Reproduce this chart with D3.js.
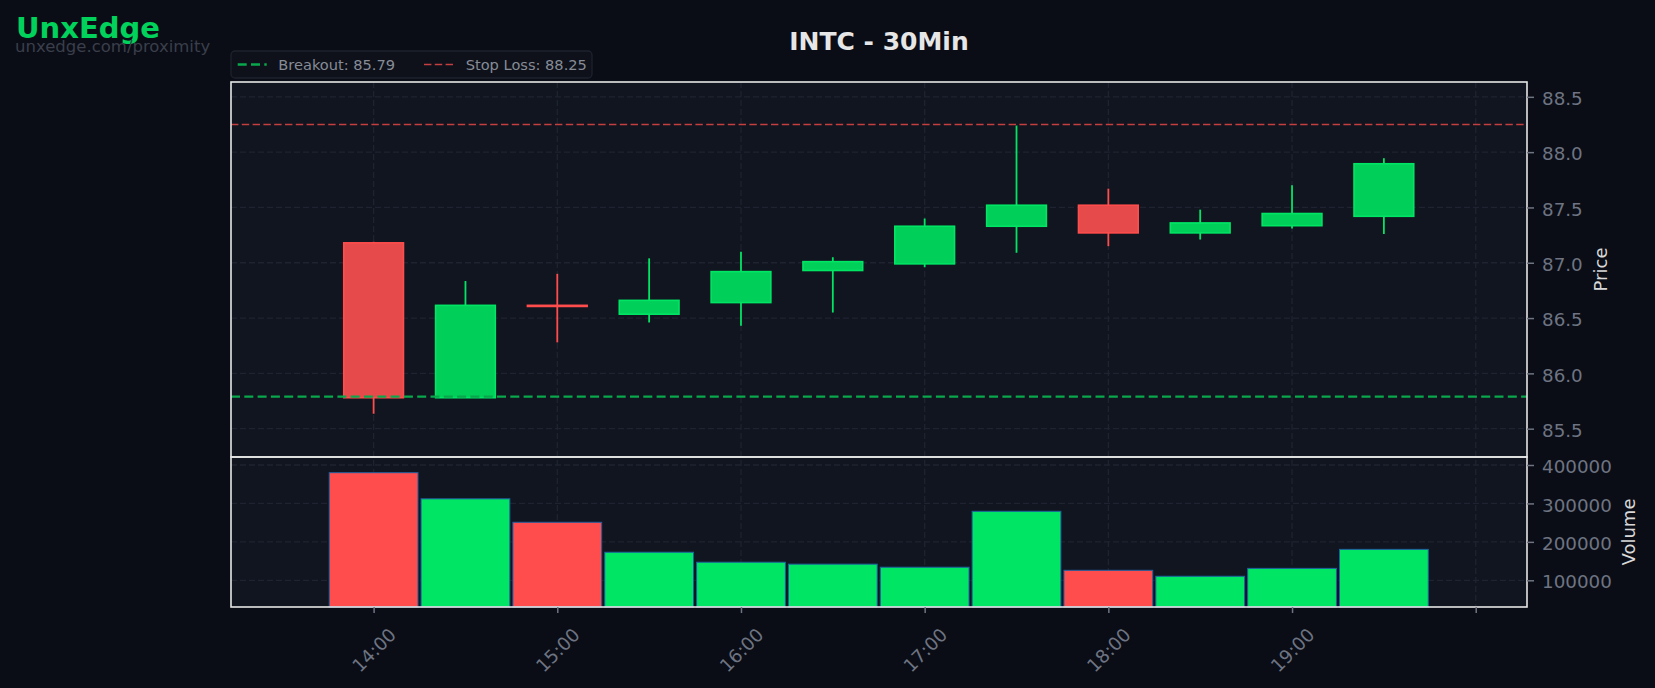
<!DOCTYPE html>
<html><head><meta charset="utf-8">
<script src="https://cdn.jsdelivr.net/npm/d3@7/dist/d3.min.js"></script>
<style>
html,body{margin:0;padding:0;background:#0a0d16;}
svg{display:block;font-family:"DejaVu Sans",sans-serif;}
</style></head>
<body>
<svg id="c" width="1655" height="688"></svg>
<script>
// ---- data ----
const times = ["14:00","14:30","15:00","15:30","16:00","16:30","17:00","17:30","18:00","18:30","19:00","19:30"];
const opens  = [87.18, 85.78, 86.615, 86.535, 86.64, 86.93, 86.99, 87.33, 87.52, 87.27, 87.335, 87.42];
const highs  = [87.19, 86.835, 86.90, 87.04, 87.10, 87.05, 87.40, 88.24, 87.67, 87.48, 87.70, 87.945];
const lows   = [85.635, 85.78, 86.28, 86.46, 86.43, 86.55, 86.96, 87.09, 87.15, 87.21, 87.31, 87.26];
const closes = [85.78, 86.615, 86.605, 86.66, 86.92, 87.01, 87.33, 87.52, 87.27, 87.36, 87.445, 87.895];
const volumes = [380000, 312000, 251000, 173000, 147000, 142000, 134000, 279500, 126000, 110500, 131000, 180500];
const priceTicks = [85.5, 86.0, 86.5, 87.0, 87.5, 88.0, 88.5];
const volumeTicks = [100000, 200000, 300000, 400000];
const hourTicks = ["14:00","15:00","16:00","17:00","18:00","19:00","20:00"];
const hourLabels = ["14:00","15:00","16:00","17:00","18:00","19:00",""];
const breakout = 85.79, stopLoss = 88.25;
const title = "INTC - 30Min";

const day = "2025-01-02T";
const parse = s => new Date(day + s + ":00");
const rows = times.map((t,i)=>({t:parse(t),o:opens[i],h:highs[i],l:lows[i],c:closes[i],v:volumes[i]}));

// ---- layout ----
const L = 231, R = 1527, PT = 82, PB = 457, VB = 607;
const svg = d3.select("#c");
const x = d3.scaleTime().domain([new Date(day+"13:13:25"), new Date(day+"20:16:45")]).range([L,R]);
const y = d3.scaleLinear().domain([85.244, 88.634]).range([PB, PT]);
const yv = d3.scaleLinear().domain([30500, 420800]).range([VB, PB]);
const min = m => m*60000;

const GREEN_F="#00cf5a", GREEN_E="#00e564", RED_F="#e64a4a", RED_E="#ff4d4d";
const tickCol="#6e7482", gridCol="#1f2331", spineCol="#e6e6e6";

// backgrounds
svg.append("rect").attr("x",0).attr("y",0).attr("width",1655).attr("height",688).attr("fill","#0a0d16");
svg.append("rect").attr("x",L).attr("y",PT).attr("width",R-L).attr("height",PB-PT).attr("fill","#11151f");
svg.append("rect").attr("x",L).attr("y",PB).attr("width",R-L).attr("height",VB-PB).attr("fill","#11151f");

// grids
const g = svg.append("g");
hourTicks.forEach(h=>{
  const xx = x(parse(h));
  g.append("line").attr("x1",xx).attr("x2",xx).attr("y1",PT).attr("y2",VB)
   .attr("stroke",gridCol).attr("stroke-width",1.3).attr("stroke-dasharray","6,3");
});
priceTicks.forEach(p=>{
  g.append("line").attr("x1",L).attr("x2",R).attr("y1",y(p)).attr("y2",y(p))
   .attr("stroke",gridCol).attr("stroke-width",1.3).attr("stroke-dasharray","6,3");
});
volumeTicks.forEach(v=>{
  g.append("line").attr("x1",L).attr("x2",R).attr("y1",yv(v)).attr("y2",yv(v))
   .attr("stroke",gridCol).attr("stroke-width",1.3).attr("stroke-dasharray","6,3");
});

// candles
const cg = svg.append("g");
rows.forEach(d=>{
  const up = d.c >= d.o;
  const ec = up?GREEN_E:RED_E, fc = up?GREEN_F:RED_F;
  const xc = x(d.t);
  cg.append("line").attr("x1",xc).attr("x2",xc).attr("y1",y(d.h)).attr("y2",y(d.l))
    .attr("stroke",ec).attr("stroke-width",1.8);
  const x0 = x(new Date(+d.t - min(10))), x1 = x(new Date(+d.t + min(10)));
  const yt = y(Math.max(d.o,d.c)), yb = y(Math.min(d.o,d.c));
  cg.append("rect").attr("x",x0+0.75).attr("y",yt).attr("width",x1-x0-1.5).attr("height",Math.max(0.01,yb-yt))
    .attr("fill",fc).attr("stroke",ec).attr("stroke-width",1.6);
});

// reference lines
svg.append("line").attr("x1",L).attr("x2",R).attr("y1",y(breakout)).attr("y2",y(breakout))
  .attr("stroke","#0aa84c").attr("stroke-width",2.3).attr("stroke-dasharray","9,4.3");
svg.append("line").attr("x1",L).attr("x2",R).attr("y1",y(stopLoss)).attr("y2",y(stopLoss))
  .attr("stroke","#c33f40").attr("stroke-width",1.7).attr("stroke-dasharray","7.4,3.4");

// volume bars
const vg = svg.append("g");
rows.forEach((d,i)=>{
  const up = d.c >= d.o;
  const x0 = x(new Date(+d.t - min(14.5))), x1 = x(new Date(+d.t + min(14.5)));
  vg.append("rect").attr("x",x0).attr("y",yv(d.v)).attr("width",x1-x0).attr("height",VB-yv(d.v))
    .attr("fill", up?"#00e564":"#ff4d4d").attr("stroke","#1f5fa0").attr("stroke-width",1);
});

// spines
[[PT,PB],[PB,VB]].forEach(([a,b])=>{
  svg.append("rect").attr("x",L).attr("y",a).attr("width",R-L).attr("height",b-a)
    .attr("fill","none").attr("stroke",spineCol).attr("stroke-width",1.6);
});

// axes
const ya = d3.axisRight(y).tickValues(priceTicks).tickFormat(d3.format(".1f")).tickSize(7).tickPadding(8);
const yaG = svg.append("g").attr("transform",`translate(${R},0)`).call(ya);
const va = d3.axisRight(yv).tickValues(volumeTicks).tickFormat(d3.format("d")).tickSize(7).tickPadding(8);
const vaG = svg.append("g").attr("transform",`translate(${R},0)`).call(va);
const xa = d3.axisBottom(x).tickValues(hourTicks.map(parse)).tickFormat((d,i)=>hourLabels[i]).tickSize(6);
const xaG = svg.append("g").attr("transform",`translate(0,${VB})`).call(xa);
[yaG,vaG,xaG].forEach(a=>{
  a.select(".domain").remove();
  a.selectAll(".tick line").attr("stroke",tickCol).attr("stroke-width",1.5);
  a.selectAll(".tick text").attr("fill",tickCol).attr("font-size",18.3).attr("font-family","DejaVu Sans");
});
[yaG,vaG].forEach(a=>a.selectAll(".tick text").attr("dy","0.42em"));
xaG.selectAll(".tick text").attr("y",0).attr("dy",null)
  .attr("text-anchor","middle").attr("dominant-baseline","central")
  .attr("transform","translate(0,43) rotate(-45)");

// axis labels
svg.append("text").attr("transform",`translate(1600,${(PT+PB)/2}) rotate(-90)`).attr("text-anchor","middle")
  .attr("dominant-baseline","central").attr("fill","#d8d8d8").attr("font-size",18).text("Price");
svg.append("text").attr("transform",`translate(1628,${(PB+VB)/2}) rotate(-90)`).attr("text-anchor","middle")
  .attr("dominant-baseline","central").attr("fill","#d8d8d8").attr("font-size",18).text("Volume");

// title
svg.append("text").attr("x",879).attr("y",50).attr("text-anchor","middle").attr("font-weight","bold")
  .attr("font-size",25).attr("fill","#e6e6e6").text(title);

// branding
svg.append("text").attr("x",16).attr("y",37.5).attr("font-weight","bold").attr("font-size",29).attr("fill","#00d25b").text("UnxEdge");
svg.append("text").attr("x",15).attr("y",52).attr("font-size",16.5).attr("fill","#3a3f4b").text("unxedge.com/proximity");

// legend
const lg = svg.append("g");
lg.append("rect").attr("x",231).attr("y",51).attr("width",361).attr("height",27).attr("rx",4)
  .attr("fill","#0e111a").attr("stroke","#1e222d").attr("stroke-width",1.3);
lg.append("line").attr("x1",237.7).attr("x2",266.7).attr("y1",64.5).attr("y2",64.5)
  .attr("stroke","#0aa84c").attr("stroke-width",2.3).attr("stroke-dasharray","9,4.3");
lg.append("text").attr("x",278.3).attr("y",64.5).attr("dominant-baseline","central").attr("font-size",14.6)
  .attr("fill","#868b96").text("Breakout: " + breakout.toFixed(2));
lg.append("line").attr("x1",424).attr("x2",453.3).attr("y1",64.5).attr("y2",64.5)
  .attr("stroke","#c33f40").attr("stroke-width",1.7).attr("stroke-dasharray","7.4,3.4");
lg.append("text").attr("x",465.7).attr("y",64.5).attr("dominant-baseline","central").attr("font-size",14.6)
  .attr("fill","#868b96").text("Stop Loss: " + stopLoss.toFixed(2));
</script>
</body></html>
